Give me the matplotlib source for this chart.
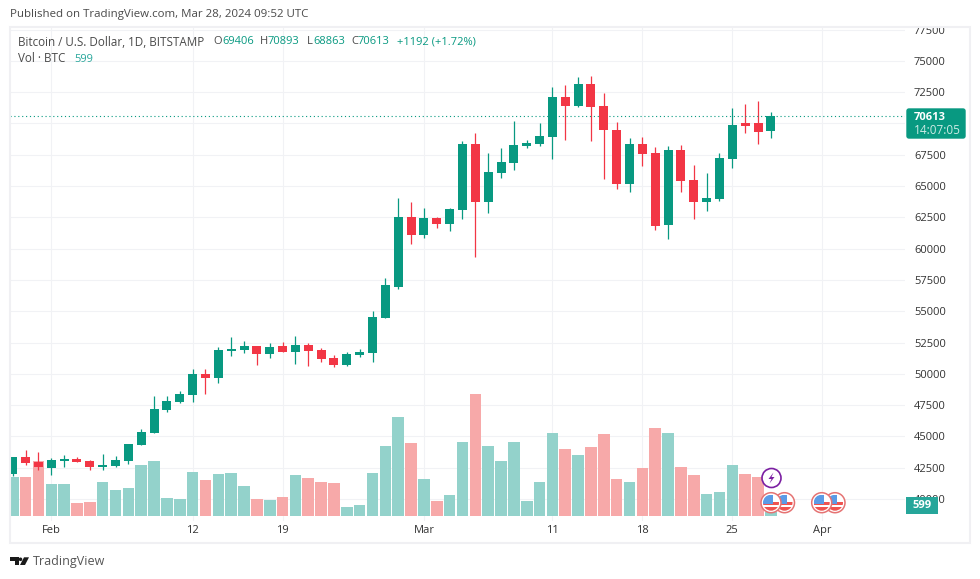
import numpy as np
import pandas as pd
import matplotlib
matplotlib.use("Agg")
import matplotlib.pyplot as plt
import matplotlib.dates as mdates
from matplotlib.patches import Circle, Rectangle, Polygon, FancyBboxPatch

plt.rcParams["font.family"] = ["Open Sans", "DejaVu Sans"]

dates = pd.date_range("2024-01-29", "2024-03-28", freq="D")

opens = [41984, 43343, 42943, 42464, 43023, 43183, 43023, 42544, 42623, 43023,
         44302, 45261, 47099, 47738, 48298, 49976, 49657, 51814, 51894, 52214,
         51575, 52214, 51735, 52294, 51894, 51255, 50696, 51495, 51655, 54452,
         56929, 62524, 61085, 62444, 61964, 63083, 68358, 63723, 66040, 66839,
         68198, 68358, 68917, 72114, 71395, 73153, 71395, 69477, 65161, 68358,
         67639, 61884, 67878, 65480, 63723, 63962, 67159, 70036, 70036, 69406]
highs = [43343, 43902, 43742, 43263, 43503, 43343, 43103, 43583, 43423, 44382,
         45581, 48218, 48218, 48618, 50376, 50376, 52134, 52933, 52614, 52214,
         52454, 52534, 53013, 52454, 52054, 51495, 51735, 51974, 55011, 57649,
         64042, 63722, 63243, 62524, 63243, 68598, 69237, 67639, 68038, 70196,
         68678, 70036, 72913, 73073, 73713, 73792, 72434, 70116, 68837, 68917,
         68118, 68198, 68278, 66680, 66040, 67639, 71235, 71555, 71795, 70893]
lows = [41824, 42703, 42304, 41904, 42544, 42943, 42304, 42304, 42544, 42783,
        44302, 45261, 46939, 47659, 47738, 48378, 49257, 51415, 51655, 50696,
        51255, 51735, 50775, 50616, 50935, 50536, 50616, 51335, 50935, 54452,
        56770, 60366, 60846, 61645, 61405, 62364, 59327, 62844, 65641, 66280,
        68038, 68198, 67159, 68678, 71315, 68598, 65561, 64761, 64522, 66600,
        61485, 60765, 64522, 62364, 63003, 63802, 66440, 69237, 68358, 68863]
closes = [43343, 42863, 42544, 43103, 43183, 42943, 42544, 42703, 43103, 44382,
          45341, 47179, 47818, 48378, 49976, 49657, 51894, 51974, 52214, 51575,
          52134, 51735, 52294, 51815, 51175, 50696, 51575, 51735, 54532, 57089,
          62524, 61085, 62444, 61964, 63163, 68358, 63723, 66120, 66919, 68278,
          68438, 68997, 72114, 71395, 73153, 71315, 69477, 65161, 68358, 67559,
          61804, 67878, 65401, 63723, 64042, 67239, 69876, 69796, 69317, 70613]
volumes = [5382, 5382, 7590, 4416, 4416, 1794, 1932, 4692, 3588, 3864,
           7038, 7590, 2484, 2346, 6072, 4968, 5796, 5934, 4140, 2346,
           2208, 2622, 5658, 5244, 4692, 4554, 1242, 1518, 5934, 9660,
           13662, 10074, 5060, 2070, 2898, 10212, 16836, 9660, 7590, 10212,
           2070, 4692, 11454, 9246, 8418, 9522, 11316, 5106, 4692, 6624,
           12144, 11454, 6762, 5658, 3036, 3312, 7038, 5796, 5382, 599]

price_ticks = list(range(40000, 77501, 2500))
# the 70000 label sits behind the last price tag
price_labels = ["" if p == 70000 else str(p) for p in price_ticks]
time_tick_dates = ["2024-02-01", "2024-02-12", "2024-02-19", "2024-03-01",
                   "2024-03-11", "2024-03-18", "2024-03-25", "2024-04-01"]
time_tick_labels = ["Feb", "12", "19", "Mar", "11", "18", "25", "Apr"]

GREEN = "#089981"
RED = "#F23645"
VOL_GREEN = "#93D2CB"
VOL_RED = "#F7A9A9"
GRID = "#F1F2F5"
TEXT = "#4A4A4A"

W, H = 980, 579
fig = plt.figure(figsize=(W / 100, H / 100), dpi=100, facecolor="white")

# pane position in pixels
pane_l, pane_r, pane_t, pane_b = 10, 905, 27, 521
rect = [pane_l / W, 1 - pane_b / H, (pane_r - pane_l) / W, (pane_b - pane_t) / H]

x = mdates.date2num(dates)
feb1 = mdates.date2num(pd.Timestamp("2024-02-01"))
xlim = (feb1 - 3.214, feb1 + 66.44)
price_lim = (38249, 77708)
vol_lim = (-690, 67482)

# grid and axis labels go on the bottom axes
ax_grid = fig.add_axes(rect)
ax_grid.set_xlim(xlim)
ax_grid.set_ylim(price_lim)
ax_grid.set_xticks(mdates.date2num(pd.to_datetime(time_tick_dates)))
ax_grid.set_xticklabels(time_tick_labels)
ax_grid.set_yticks(price_ticks)
ax_grid.set_yticklabels(price_labels)
ax_grid.yaxis.tick_right()
ax_grid.tick_params(axis="both", length=0, labelsize=8, labelcolor="#333333")
ax_grid.tick_params(axis="x", pad=3)
ax_grid.tick_params(axis="y", pad=6.5)
ax_grid.grid(True, color=GRID, linewidth=0.75)
for s in ax_grid.spines.values():
    s.set_visible(False)

# volume
ax_vol = fig.add_axes(rect, sharex=ax_grid)
ax_vol.patch.set_visible(False)
ax_vol.axis("off")
ax_vol.set_ylim(vol_lim)
vol_colors = [VOL_GREEN if c >= o else VOL_RED for o, c in zip(opens, closes)]
ax_vol.bar(x, volumes, width=0.9, color=vol_colors, linewidth=0)

# candles
ax = fig.add_axes(rect, sharex=ax_grid)
ax.patch.set_visible(False)
ax.axis("off")
ax.set_ylim(price_lim)
colors = [GREEN if c >= o else RED for o, c in zip(opens, closes)]
ax.vlines(x, lows, highs, colors=colors, linewidth=0.9)
body_low = np.minimum(opens, closes)
body_h = np.abs(np.array(closes) - np.array(opens))
ax.bar(x, body_h, bottom=body_low, width=0.7, color=colors, linewidth=0, zorder=3)
ax.axhline(closes[-1], color=GREEN, linewidth=0.8, linestyle=(0, (1, 2.5)))
ax.set_xlim(xlim)

# overlay in pixel coordinates for the frame, tags, icons and header
ov = fig.add_axes([0, 0, 1, 1], zorder=10)
ov.set_xlim(0, W)
ov.set_ylim(H, 0)
ov.axis("off")
ov.patch.set_visible(False)

ov.add_patch(Rectangle((10, 27), 960, 516, fill=False, edgecolor="#F0F0F3", linewidth=1.5))

ov.text(10, 15, "Published on TradingView.com, Mar 28, 2024 09:52 UTC",
        fontsize=8.25, color=TEXT, va="center")

ov.text(18, 42, "Bitcoin / U.S. Dollar, 1D, BITSTAMP", fontsize=8.4, color=TEXT, va="center")
legend_parts = [(213, "O", TEXT), (222, "69406", GREEN), (260, "H", TEXT), (268, "70893", GREEN),
                (307, "L", TEXT), (313, "68863", GREEN), (351, "C", TEXT), (358, "70613", GREEN),
                (397, "+1192 (+1.72%)", GREEN)]
for px, s, c in legend_parts:
    ov.text(px, 42, s, fontsize=8, color=c, va="center")
ov.text(18, 59, "Vol · BTC", fontsize=8.4, color=TEXT, va="center")
ov.text(74, 59, "599", fontsize=8, color="#26A69A", va="center")

# last price tag
ov.add_patch(FancyBboxPatch((907, 109), 58, 29, boxstyle="round,pad=0,rounding_size=2",
                            facecolor=GREEN, edgecolor=GREEN, linewidth=1))
ov.text(914, 117, "70613", fontsize=8, color="white", fontweight="bold", va="center")
ov.text(914, 131, "14:07:05", fontsize=8.5, color="#CDEBE5", va="center")

# volume tag
ov.add_patch(Rectangle((906, 497), 32, 17, facecolor="#26A69A", edgecolor="none"))
ov.text(922, 505.5, "599", fontsize=8, color="white", fontweight="bold", va="center", ha="center")

# purple event marker
ov.add_patch(Circle((771.5, 478), 9.5, facecolor="white", edgecolor="#7B1FA2", linewidth=1.2))
ov.add_patch(Polygon([(773.5, 472.5), (768.5, 479), (771.5, 479), (769.5, 483.5),
                      (774.5, 477), (771.5, 477)], closed=True, facecolor="#7B1FA2", edgecolor="none"))


def us_flag(cx, cy, z):
    ov.add_patch(Circle((cx, cy), 10, facecolor="white", edgecolor="#E57373", linewidth=1.1, zorder=z))
    inner = Circle((cx, cy), 8, facecolor="none", edgecolor="none", zorder=z)
    ov.add_patch(inner)
    shapes = [Rectangle((cx - 8, cy - 8), 16, 16, facecolor="white", zorder=z),
              Rectangle((cx - 8, cy - 1), 16, 3, facecolor="#EF5350", zorder=z),
              Rectangle((cx - 8, cy + 4), 16, 4, facecolor="#EF5350", zorder=z),
              Rectangle((cx - 8, cy - 8), 10, 9, facecolor="#5B9BE6", zorder=z)]
    for p in shapes:
        ov.add_patch(p)
        p.set_clip_path(inner)


us_flag(784.5, 502.7, 4)
us_flag(771, 502.7, 5)
us_flag(835, 502.7, 4)
us_flag(821.7, 502.7, 5)

# TradingView logo
ov.add_patch(Polygon([(10, 557.3), (18.5, 557.3), (18.5, 565), (14.5, 565), (14.5, 561), (10, 561)],
                     closed=True, facecolor="#1A1A1A", edgecolor="none"))
ov.add_patch(Circle((20.5, 559.3), 1.8, facecolor="#1A1A1A", edgecolor="none"))
ov.add_patch(Polygon([(24, 557.3), (29, 557.3), (25, 565), (20, 565)],
                     closed=True, facecolor="#1A1A1A", edgecolor="none"))
ov.text(33, 561.5, "TradingView", fontsize=9, color="#555555", va="center")

fig.savefig("out.png", dpi=100)
